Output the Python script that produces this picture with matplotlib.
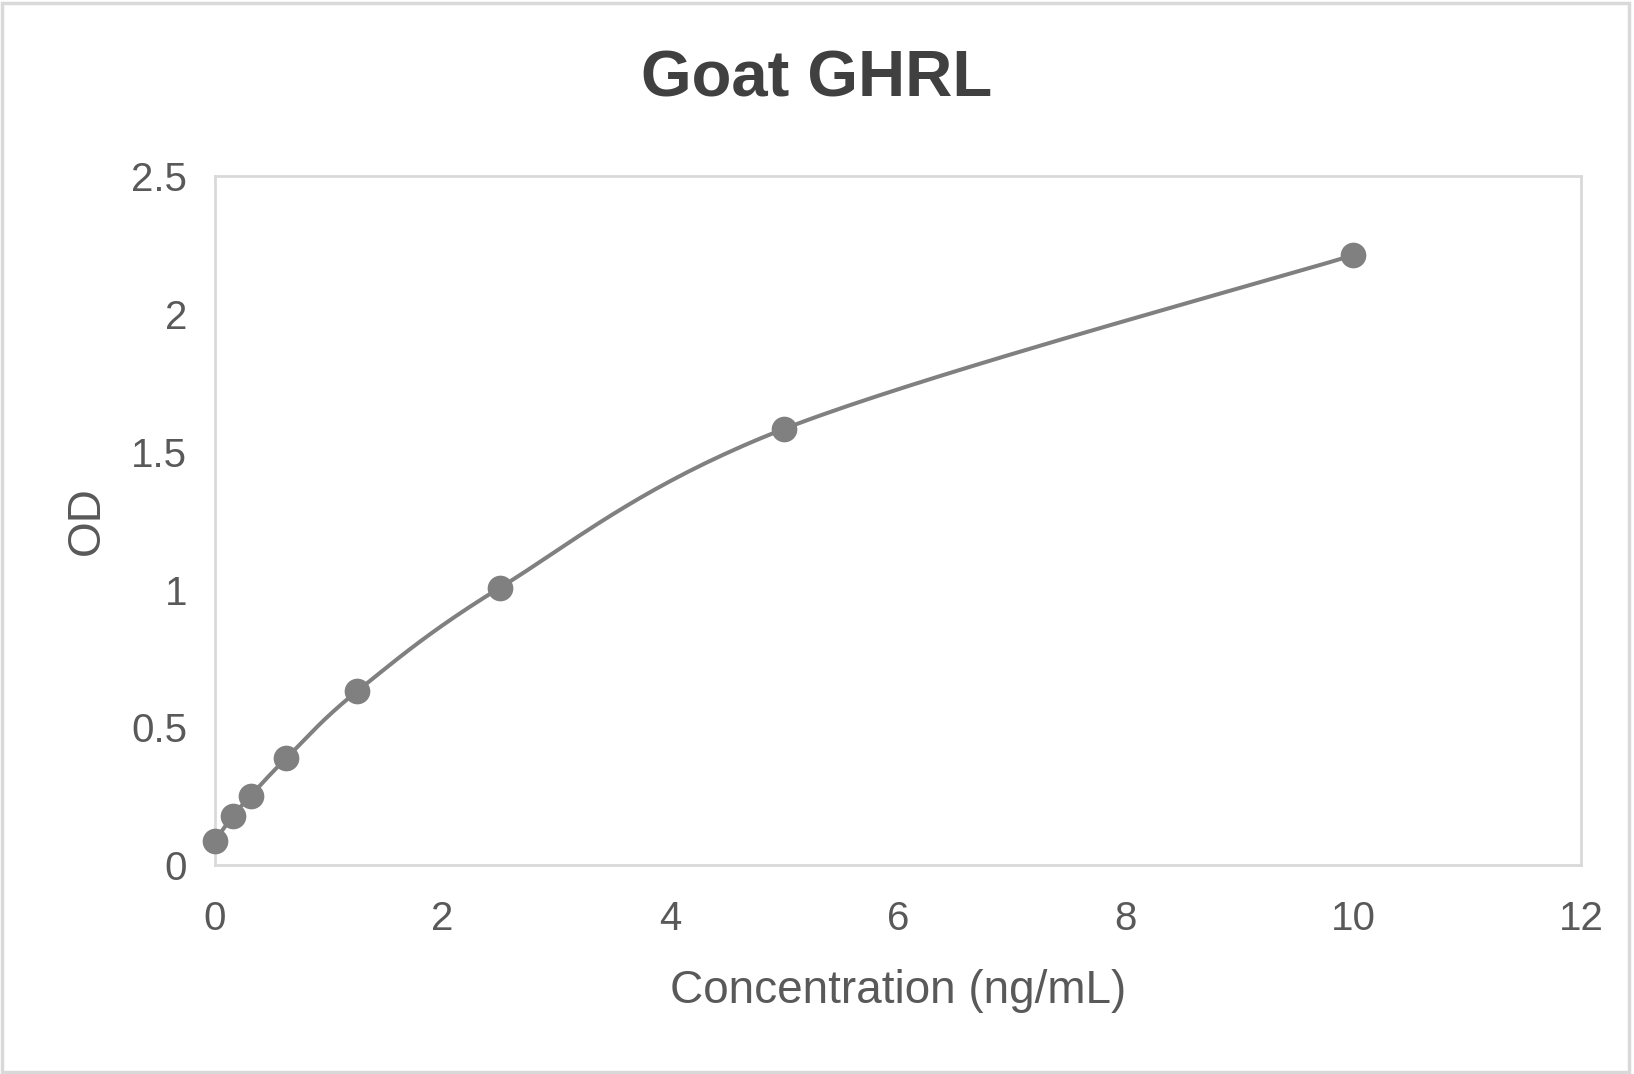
import numpy as np
import matplotlib.pyplot as plt
from matplotlib.patches import Rectangle

# Datos de la curva estándar
conc = [0, 0.156, 0.3125, 0.625, 1.25, 2.5, 5, 10]
od = [0.089, 0.179, 0.252, 0.388, 0.632, 1.006, 1.583, 2.213]
x_ticks = [0, 2, 4, 6, 8, 10, 12]
y_ticks = [0, 0.5, 1, 1.5, 2, 2.5]
y_tick_labels = ["0", "0.5", "1", "1.5", "2", "2.5"]

gray = "#808080"
text_color = "#595959"
plt.rcParams["font.family"] = ["Liberation Sans", "DejaVu Sans"]

fig = plt.figure(figsize=(16.34, 10.74), dpi=100)
ax = fig.add_axes([0.1316, 0.1943, 0.8359, 0.6418])
ax.set_xlim(0, 12)
ax.set_ylim(0, 2.5)


def smooth_curve(ax, xs, ys, n=40):
    # curva suavizada tipo Excel (Bezier Catmull-Rom en coordenadas de pantalla)
    pts = ax.transData.transform(np.column_stack([xs, ys]))
    p = np.vstack([pts[0], pts, pts[-1]])
    out = []
    t = np.linspace(0, 1, n)[:, None]
    for i in range(1, len(p) - 2):
        p0, p1, p2, p3 = p[i - 1], p[i], p[i + 1], p[i + 2]
        c1 = p1 + (p2 - p0) / 6
        c2 = p2 - (p3 - p1) / 6
        seg = ((1 - t) ** 3) * p1 + 3 * ((1 - t) ** 2) * t * c1 + 3 * (1 - t) * t ** 2 * c2 + t ** 3 * p2
        out.append(seg)
    out = np.vstack(out)
    return ax.transData.inverted().transform(out)


curve = smooth_curve(ax, conc, od)
ax.plot(curve[:, 0], curve[:, 1], color=gray, lw=2.9, solid_capstyle="round", zorder=2, clip_on=False)
ax.plot(conc, od, "o", color=gray, ms=18.5, mec="none", zorder=3, clip_on=False)

ax.set_xticks(x_ticks)
ax.set_xticklabels([str(v) for v in x_ticks])
ax.set_yticks(y_ticks)
ax.set_yticklabels(y_tick_labels)
ax.tick_params(axis="both", length=0, labelsize=29, labelcolor=text_color)
ax.tick_params(axis="x", pad=25)
ax.tick_params(axis="y", pad=20)
for s in ax.spines.values():
    s.set_color("#d9d9d9")
    s.set_linewidth(2)

ax.set_xlabel("Concentration (ng/mL)", fontsize=33, color=text_color, labelpad=22)
fig.text(0.053, 0.515, "OD", rotation=90, fontsize=33, color=text_color, ha="center", va="center")
fig.text(0.4995, 0.926, "Goat GHRL", fontsize=47, fontweight="bold", color="#404040", ha="center", va="center")

fig.patches.append(Rectangle((0.001, 0.002), 0.996, 0.995, transform=fig.transFigure,
                             fill=False, edgecolor="#d9d9d9", lw=2.5))

fig.savefig("out.png", dpi=100)
